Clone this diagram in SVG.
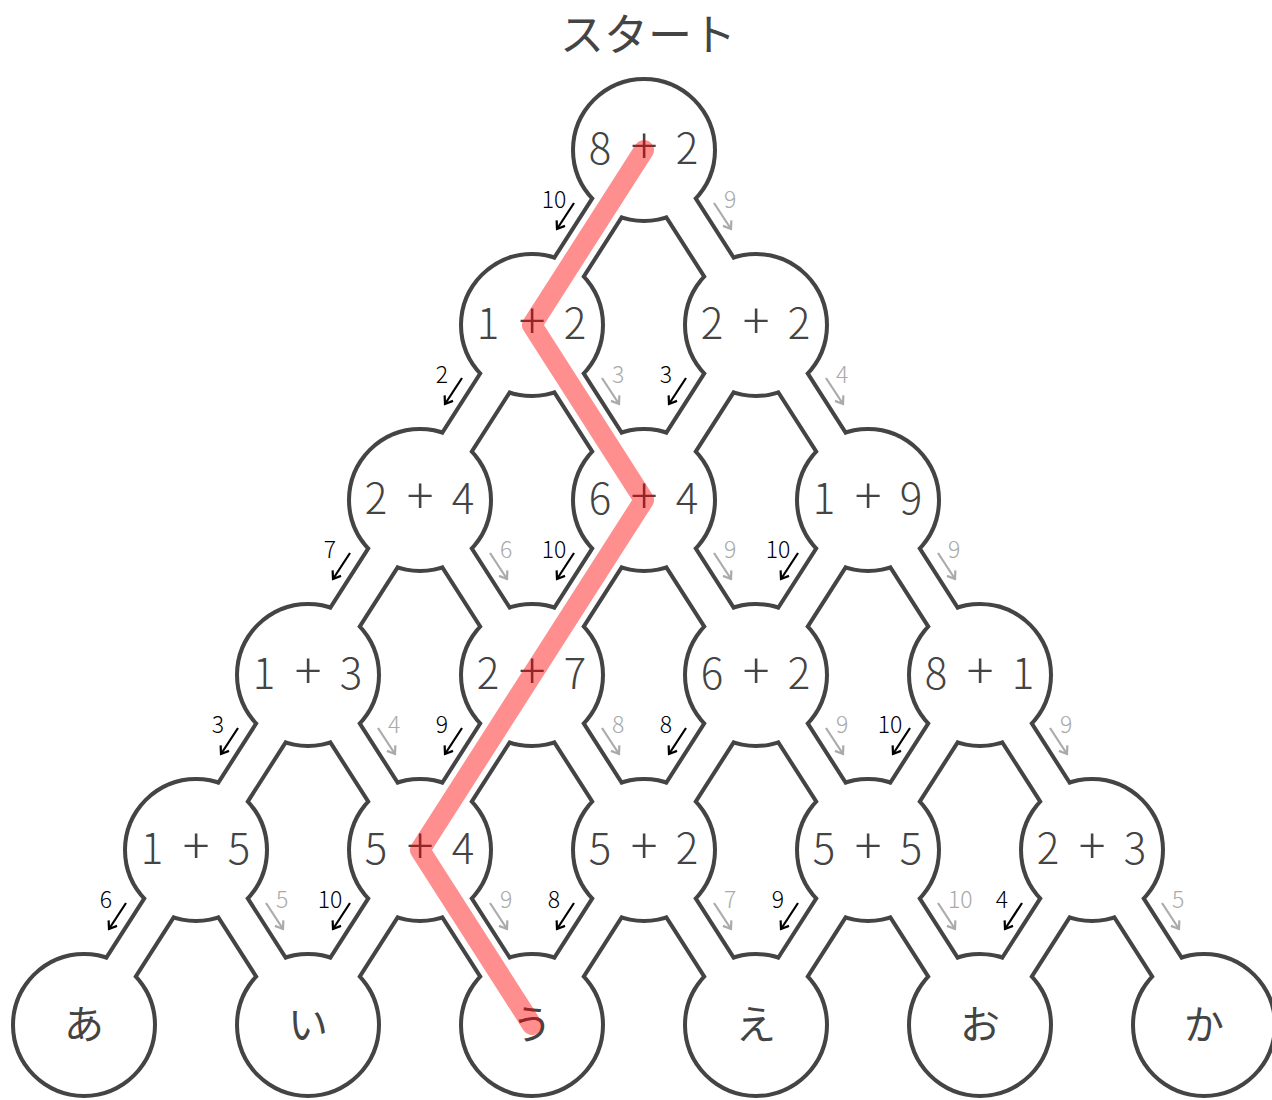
<svg xmlns="http://www.w3.org/2000/svg" xmlns:xlink="http://www.w3.org/1999/xlink" width="1272" height="1100" viewBox="0 0 1272 1100">
<style>
text{font-family:"Noto Sans CJK JP","Noto Sans",sans-serif}
.wall-c{fill:#444;stroke:#444;stroke-width:8}
.wall-l{fill:none;stroke:#444;stroke-width:39;stroke-linecap:butt}
.floor-l{fill:none;stroke:#fff;stroke-width:31;stroke-linecap:butt}
.node circle{fill:#fff;stroke:none}
.nl{font-size:42px;fill:#444;text-anchor:middle;font-weight:300}
.pl{font-size:50px}
.kl{font-size:40px;fill:#444;text-anchor:middle}
.ab{stroke:#000;stroke-width:2.2;fill:none;marker-end:url(#hb)}
.ag{stroke:#aaa;stroke-width:2.2;fill:none;marker-end:url(#hg)}
.tb{font-size:23px;fill:#000;text-anchor:middle;font-weight:300}
.tg{font-size:23px;fill:#aaa;text-anchor:start;font-weight:300}
.route{fill:none;stroke:#ff0000;stroke-opacity:0.44;stroke-width:20;stroke-linecap:round;stroke-linejoin:round}
</style>
<defs>
<marker id="hb" viewBox="-10 -6 12 12" refX="0" refY="0" markerWidth="12" markerHeight="12" markerUnits="userSpaceOnUse" orient="auto">
<path d="M-7,-5 L0,0 L-7,5" fill="none" stroke="#000" stroke-width="2.2"/>
</marker>
<marker id="hg" viewBox="-10 -6 12 12" refX="0" refY="0" markerWidth="12" markerHeight="12" markerUnits="userSpaceOnUse" orient="auto">
<path d="M-7,-5 L0,0 L-7,5" fill="none" stroke="#aaa" stroke-width="2.2"/>
</marker>
<path id="corr" d="M644,150L532,325M644,150L756,325
M532,325L420,500M532,325L644,500M756,325L644,500M756,325L868,500
M420,500L308,675M420,500L532,675M644,500L532,675M644,500L756,675M868,500L756,675M868,500L980,675
M308,675L196,850M308,675L420,850M532,675L420,850M532,675L644,850M756,675L644,850M756,675L868,850M980,675L868,850M980,675L1092,850
M196,850L84,1025M196,850L308,1025M420,850L308,1025M420,850L532,1025M644,850L532,1025M644,850L756,1025M868,850L756,1025M868,850L980,1025M1092,850L980,1025M1092,850L1204,1025"/>
</defs>

<text id="start" x="648" y="51" style="font-size:44px;fill:#444;text-anchor:middle">スタート</text>

<g id="maze-walls">
<circle class="wall-c" cx="644" cy="150" r="69"/>
<circle class="wall-c" cx="532" cy="325" r="69"/><circle class="wall-c" cx="756" cy="325" r="69"/>
<circle class="wall-c" cx="420" cy="500" r="69"/><circle class="wall-c" cx="644" cy="500" r="69"/><circle class="wall-c" cx="868" cy="500" r="69"/>
<circle class="wall-c" cx="308" cy="675" r="69"/><circle class="wall-c" cx="532" cy="675" r="69"/><circle class="wall-c" cx="756" cy="675" r="69"/><circle class="wall-c" cx="980" cy="675" r="69"/>
<circle class="wall-c" cx="196" cy="850" r="69"/><circle class="wall-c" cx="420" cy="850" r="69"/><circle class="wall-c" cx="644" cy="850" r="69"/><circle class="wall-c" cx="868" cy="850" r="69"/><circle class="wall-c" cx="1092" cy="850" r="69"/>
<circle class="wall-c" cx="84" cy="1025" r="69"/><circle class="wall-c" cx="308" cy="1025" r="69"/><circle class="wall-c" cx="532" cy="1025" r="69"/><circle class="wall-c" cx="756" cy="1025" r="69"/><circle class="wall-c" cx="980" cy="1025" r="69"/><circle class="wall-c" cx="1204" cy="1025" r="69"/>
<use xlink:href="#corr" href="#corr" class="wall-l"/>
</g>

<g id="connectors">
<use xlink:href="#corr" href="#corr" class="floor-l"/>
<line class="ab" x1="574" y1="203" x2="557" y2="229"/><text class="tb" x="554" y="208">10</text>
<line class="ag" x1="714" y1="203" x2="731" y2="229"/><text class="tg" x="724" y="208">9</text>

<line class="ab" x1="462" y1="378" x2="445" y2="404"/><text class="tb" x="442" y="383">2</text>
<line class="ag" x1="602" y1="378" x2="619" y2="404"/><text class="tg" x="612" y="383">3</text>
<line class="ab" x1="686" y1="378" x2="669" y2="404"/><text class="tb" x="666" y="383">3</text>
<line class="ag" x1="826" y1="378" x2="843" y2="404"/><text class="tg" x="836" y="383">4</text>

<line class="ab" x1="350" y1="553" x2="333" y2="579"/><text class="tb" x="330" y="558">7</text>
<line class="ag" x1="490" y1="553" x2="507" y2="579"/><text class="tg" x="500" y="558">6</text>
<line class="ab" x1="574" y1="553" x2="557" y2="579"/><text class="tb" x="554" y="558">10</text>
<line class="ag" x1="714" y1="553" x2="731" y2="579"/><text class="tg" x="724" y="558">9</text>
<line class="ab" x1="798" y1="553" x2="781" y2="579"/><text class="tb" x="778" y="558">10</text>
<line class="ag" x1="938" y1="553" x2="955" y2="579"/><text class="tg" x="948" y="558">9</text>

<line class="ab" x1="238" y1="728" x2="221" y2="754"/><text class="tb" x="218" y="733">3</text>
<line class="ag" x1="378" y1="728" x2="395" y2="754"/><text class="tg" x="388" y="733">4</text>
<line class="ab" x1="462" y1="728" x2="445" y2="754"/><text class="tb" x="442" y="733">9</text>
<line class="ag" x1="602" y1="728" x2="619" y2="754"/><text class="tg" x="612" y="733">8</text>
<line class="ab" x1="686" y1="728" x2="669" y2="754"/><text class="tb" x="666" y="733">8</text>
<line class="ag" x1="826" y1="728" x2="843" y2="754"/><text class="tg" x="836" y="733">9</text>
<line class="ab" x1="910" y1="728" x2="893" y2="754"/><text class="tb" x="890" y="733">10</text>
<line class="ag" x1="1050" y1="728" x2="1067" y2="754"/><text class="tg" x="1060" y="733">9</text>

<line class="ab" x1="126" y1="903" x2="109" y2="929"/><text class="tb" x="106" y="908">6</text>
<line class="ag" x1="266" y1="903" x2="283" y2="929"/><text class="tg" x="276" y="908">5</text>
<line class="ab" x1="350" y1="903" x2="333" y2="929"/><text class="tb" x="330" y="908">10</text>
<line class="ag" x1="490" y1="903" x2="507" y2="929"/><text class="tg" x="500" y="908">9</text>
<line class="ab" x1="574" y1="903" x2="557" y2="929"/><text class="tb" x="554" y="908">8</text>
<line class="ag" x1="714" y1="903" x2="731" y2="929"/><text class="tg" x="724" y="908">7</text>
<line class="ab" x1="798" y1="903" x2="781" y2="929"/><text class="tb" x="778" y="908">9</text>
<line class="ag" x1="938" y1="903" x2="955" y2="929"/><text class="tg" x="948" y="908">10</text>
<line class="ab" x1="1022" y1="903" x2="1005" y2="929"/><text class="tb" x="1002" y="908">4</text>
<line class="ag" x1="1162" y1="903" x2="1179" y2="929"/><text class="tg" x="1172" y="908">5</text>
</g>

<g id="n-8p2" class="node"><circle cx="644" cy="150" r="69"/><text class="nl" y="164"><tspan x="600">8</tspan><tspan class="pl" x="644">+</tspan><tspan x="687">2</tspan></text></g>
<g id="n-1p2" class="node"><circle cx="532" cy="325" r="69"/><text class="nl" y="339"><tspan x="488">1</tspan><tspan class="pl" x="532">+</tspan><tspan x="575">2</tspan></text></g>
<g id="n-2p2" class="node"><circle cx="756" cy="325" r="69"/><text class="nl" y="339"><tspan x="712">2</tspan><tspan class="pl" x="756">+</tspan><tspan x="799">2</tspan></text></g>
<g id="n-2p4" class="node"><circle cx="420" cy="500" r="69"/><text class="nl" y="514"><tspan x="376">2</tspan><tspan class="pl" x="420">+</tspan><tspan x="463">4</tspan></text></g>
<g id="n-6p4" class="node"><circle cx="644" cy="500" r="69"/><text class="nl" y="514"><tspan x="600">6</tspan><tspan class="pl" x="644">+</tspan><tspan x="687">4</tspan></text></g>
<g id="n-1p9" class="node"><circle cx="868" cy="500" r="69"/><text class="nl" y="514"><tspan x="824">1</tspan><tspan class="pl" x="868">+</tspan><tspan x="911">9</tspan></text></g>
<g id="n-1p3" class="node"><circle cx="308" cy="675" r="69"/><text class="nl" y="689"><tspan x="264">1</tspan><tspan class="pl" x="308">+</tspan><tspan x="351">3</tspan></text></g>
<g id="n-2p7" class="node"><circle cx="532" cy="675" r="69"/><text class="nl" y="689"><tspan x="488">2</tspan><tspan class="pl" x="532">+</tspan><tspan x="575">7</tspan></text></g>
<g id="n-6p2" class="node"><circle cx="756" cy="675" r="69"/><text class="nl" y="689"><tspan x="712">6</tspan><tspan class="pl" x="756">+</tspan><tspan x="799">2</tspan></text></g>
<g id="n-8p1" class="node"><circle cx="980" cy="675" r="69"/><text class="nl" y="689"><tspan x="936">8</tspan><tspan class="pl" x="980">+</tspan><tspan x="1023">1</tspan></text></g>
<g id="n-1p5" class="node"><circle cx="196" cy="850" r="69"/><text class="nl" y="864"><tspan x="152">1</tspan><tspan class="pl" x="196">+</tspan><tspan x="239">5</tspan></text></g>
<g id="n-5p4" class="node"><circle cx="420" cy="850" r="69"/><text class="nl" y="864"><tspan x="376">5</tspan><tspan class="pl" x="420">+</tspan><tspan x="463">4</tspan></text></g>
<g id="n-5p2" class="node"><circle cx="644" cy="850" r="69"/><text class="nl" y="864"><tspan x="600">5</tspan><tspan class="pl" x="644">+</tspan><tspan x="687">2</tspan></text></g>
<g id="n-5p5" class="node"><circle cx="868" cy="850" r="69"/><text class="nl" y="864"><tspan x="824">5</tspan><tspan class="pl" x="868">+</tspan><tspan x="911">5</tspan></text></g>
<g id="n-2p3" class="node"><circle cx="1092" cy="850" r="69"/><text class="nl" y="864"><tspan x="1048">2</tspan><tspan class="pl" x="1092">+</tspan><tspan x="1135">3</tspan></text></g>
<g id="n-a" class="node"><circle cx="84" cy="1025" r="69"/><text class="kl" x="84" y="1039">あ</text></g>
<g id="n-i" class="node"><circle cx="308" cy="1025" r="69"/><text class="kl" x="308" y="1039">い</text></g>
<g id="n-u" class="node"><circle cx="532" cy="1025" r="69"/><text class="kl" x="532" y="1039">う</text></g>
<g id="n-e" class="node"><circle cx="756" cy="1025" r="69"/><text class="kl" x="756" y="1039">え</text></g>
<g id="n-o" class="node"><circle cx="980" cy="1025" r="69"/><text class="kl" x="980" y="1039">お</text></g>
<g id="n-ka" class="node"><circle cx="1204" cy="1025" r="69"/><text class="kl" x="1204" y="1039">か</text></g>

<g id="route">
<polyline class="route" points="644,150 532,325 644,500 420,850 532,1025"/>
</g>
</svg>
